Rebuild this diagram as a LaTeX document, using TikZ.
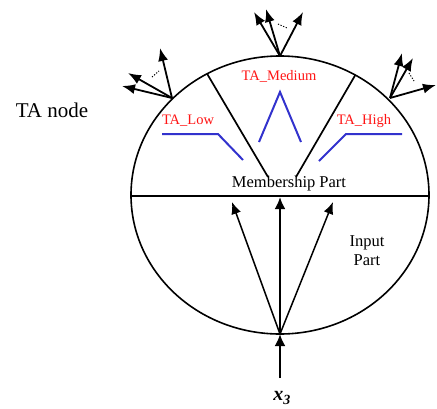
\documentclass[tikz,border=0pt]{standalone}
\usepackage{fontspec}
\setmainfont{LiberationSerif}[Extension=.ttf,UprightFont=*-Regular,BoldFont=*-Bold,ItalicFont=*-Italic,BoldItalicFont=*-BoldItalic]
\usetikzlibrary{arrows.meta,calc}
\definecolor{mfred}{RGB}{255,20,20}
\definecolor{mfblue}{RGB}{50,50,205}
\begin{document}
\begin{tikzpicture}[x=1pt,y=-1pt,
  outarrow/.style={line width=1.8pt,-{Latex[length=13pt,width=10pt]}},
  inarrow/.style={line width=1.5pt,-{Latex[length=12pt,width=10pt]}},
  mainarrow/.style={line width=2.6pt,-{Latex[length=12pt,width=11pt]}},
  mf/.style={mfblue,line width=2pt},
  mflabel/.style={text=mfred,font=\fontsize{14.5}{16}\selectfont,inner sep=0pt},
  lbl/.style={font=\fontsize{16.5}{19}\selectfont,inner sep=0pt,align=center},
  dotsline/.style={line width=1pt,dash pattern=on 1.2pt off 1.6pt}]
\useasboundingbox (0,0) rectangle (437,408);
\coordinate (c) at (280,195);
% node body
\draw[line width=1.6pt] (c) ellipse [x radius=149, y radius=139];
\begin{scope}
  \clip (c) ellipse [x radius=149, y radius=139];
  \draw[line width=2.2pt] (100,196) -- (460,196);
  \coordinate (dl0) at (268,177);
  \coordinate (dr0) at (296,177);
  \draw[line width=1.7pt] (dl0) -- ($(dl0)!1.5!(209,77)$);
  \draw[line width=1.7pt] (dr0) -- ($(dr0)!1.5!(353,79)$);
\end{scope}
% membership functions
\draw[mf] (162,134) -- (218,134) -- (243,160);
\draw[mf] (259,142) -- (280,92) -- (301,142);
\draw[mf] (319,161) -- (346,134) -- (402,134);
\node[mflabel] (low) at (188,121) {TA\_Low};
\node[mflabel] (med) at (279,76) {TA\_Medium};
\node[mflabel] (high) at (364,121) {TA\_High};
\node[lbl] (memb) at (289,184) {Membership Part};
\node[lbl] (inp) at (367,251) {Input\\Part};
\node[font=\fontsize{21}{24}\selectfont,inner sep=0pt] (ta) at (52,110) {TA node};
% input
\coordinate (bot) at (280,334);
\coordinate (ti1) at (232,202);
\coordinate (ti2) at (280,197);
\coordinate (ti3) at (333,202);
\draw[inarrow] (bot) -- (ti1);
\draw[mainarrow] (bot) -- (ti2);
\draw[inarrow] (bot) -- (ti3);
\node[font=\fontsize{20}{22}\selectfont\bfseries\itshape,inner sep=0pt] (x3) at (282,398) {x\textsubscript{3}};
\coordinate (xin) at (280,378);
\draw[mainarrow] (xin) -- (bot);
% outputs
\coordinate (ol) at ($(c)+(-108,-97)$);
\coordinate (om) at (280,56);
\coordinate (or) at ($(c)+(110,-97)$);
\draw[outarrow] (ol) -- ++(-12,-50);
\draw[outarrow] (ol) -- ++(-44,-25);
\draw[outarrow] (ol) -- ++(-50,-12);
\draw[dotsline] (152,77) -- (159,71);
\draw[outarrow] (om) -- ++(-26,-44);
\draw[outarrow] (om) -- ++(-14,-47);
\draw[outarrow] (om) -- ++(23,-44);
\draw[dotsline] (278,24) -- (287,28);
\draw[outarrow] (or) -- ++(12,-45);
\draw[outarrow] (or) -- ++(23,-40);
\draw[outarrow] (or) -- ++(46,-13);
\draw[dotsline] (409,73) -- (414,81);
\end{tikzpicture}
\end{document}
